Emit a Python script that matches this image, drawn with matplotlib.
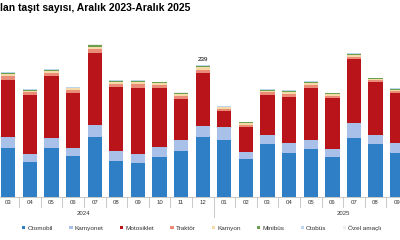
import numpy as np
import matplotlib
matplotlib.use("Agg")
import matplotlib.pyplot as plt

plt.rcParams['font.family'] = ['Liberation Sans', 'DejaVu Sans']

# monthly registrations, thousands (Mar 2024 - Sep 2025 visible)
months = ["03", "04", "05", "06", "07", "08", "09", "10", "11", "12",
          "01", "02", "03", "04", "05", "06", "07", "08", "09"]
otomobil = [88, 63, 89, 75, 108, 66, 62, 73, 84, 108, 103, 69, 95, 80, 87, 72, 106, 95, 80]
kamyonet = [20, 14, 17, 13, 23, 17, 15, 17, 20, 20, 23, 12, 17, 17, 17, 14, 28, 17, 17]
motosiklet = [104, 107, 112, 100, 130, 116, 121, 107, 74, 96, 29, 45, 73, 84, 93, 93, 115, 96, 91]
traktor = [7, 5, 6, 5, 6, 5, 6, 5, 5, 6, 4, 4, 4, 5, 5, 4, 4, 3, 3]
kamyon = [4, 3.5, 4, 3.5, 5, 4, 4, 3.5, 3.5, 4.5, 3, 3.5, 3.5, 4, 4.5, 3.5, 4, 2.5, 3]
minibus = [2, 1.5, 2, 1.5, 2.5, 2, 2, 2, 1.8, 2.5, 1.5, 2, 1.7, 2, 2.2, 1.5, 2, 1.5, 1.8]
otobus = [0.8, 0.6, 0.8, 0.6, 1, 0.7, 0.8, 0.6, 0.6, 1, 0.5, 0.5, 0.6, 0.6, 0.7, 0.5, 0.6, 0.3, 0.4]
ozel = [0.6, 0.5, 0.6, 0.5, 0.8, 0.5, 0.7, 0.4, 0.3, 0.7, 0.2, 0.2, 0.1, 0.2, 0.3, 0.2, 0.1, 0.1, 0.1]

series = [("Otomobil", otomobil, "#2f7fc6"),
          ("Kamyonet", kamyonet, "#a9c1e8"),
          ("Motosiklet", motosiklet, "#b8141a"),
          ("Traktör", traktor, "#ea8d78"),
          ("Kamyon", kamyon, "#f6d9a6"),
          ("Minibüs", minibus, "#6aa150"),
          ("Otobüs", otobus, "#bcd6ee"),
          ("Özel amaçlı", ozel, "#eeeeee")]

fig = plt.figure(figsize=(4, 2.4), dpi=100)
ax = fig.add_axes([0, 0.179, 1, 0.68])

x = np.arange(len(months))
bottom = np.zeros(len(months))
for name, vals, col in series:
    ax.bar(x, vals, 0.66, bottom=bottom, color=col, label=name)
    bottom += np.array(vals)

# value label on Dec 2024
ax.text(9, bottom[9] + 5, "239", ha="center", va="bottom", fontsize=4.5)

ax.set_xlim(-0.384, 18.13)
ax.set_ylim(0, 295)
ax.set_yticks([])
ax.set_xticks(x)
ax.set_xticklabels(months, fontsize=4.3, color="#333333")
ax.tick_params(axis="x", length=0, pad=2)
for s in ["top", "right", "left"]:
    ax.spines[s].set_visible(False)
ax.spines["bottom"].set_color("#bfbfbf")
ax.spines["bottom"].set_linewidth(0.6)

# category separators
trans = ax.get_xaxis_transform()
for b in np.arange(-0.5, len(months), 1.0):
    depth = -0.125 if b == 9.5 else -0.062
    ax.plot([b, b], [0, depth], transform=trans, color="#bfbfbf", lw=0.6, clip_on=False)

# year labels (centred on Jan..Dec of each year)
ax.text(3.5, -0.098, "2024", transform=trans, ha="center", va="center", fontsize=4.3, color="#333333")
ax.text(15.5, -0.098, "2025", transform=trans, ha="center", va="center", fontsize=4.3, color="#333333")

fig.text(0.0, 0.965, "lan taşıt sayısı, Aralık 2023-Aralık 2025",
         ha="left", va="center", fontsize=7.5, fontweight="bold")

fig.legend(loc="center", bbox_to_anchor=(0.505, 0.05), ncol=8, fontsize=4.6, frameon=False,
           handlelength=0.5, handleheight=0.5, handletextpad=0.3, columnspacing=2.6,
           labelcolor="#333333")

fig.savefig("out.png", dpi=100)
